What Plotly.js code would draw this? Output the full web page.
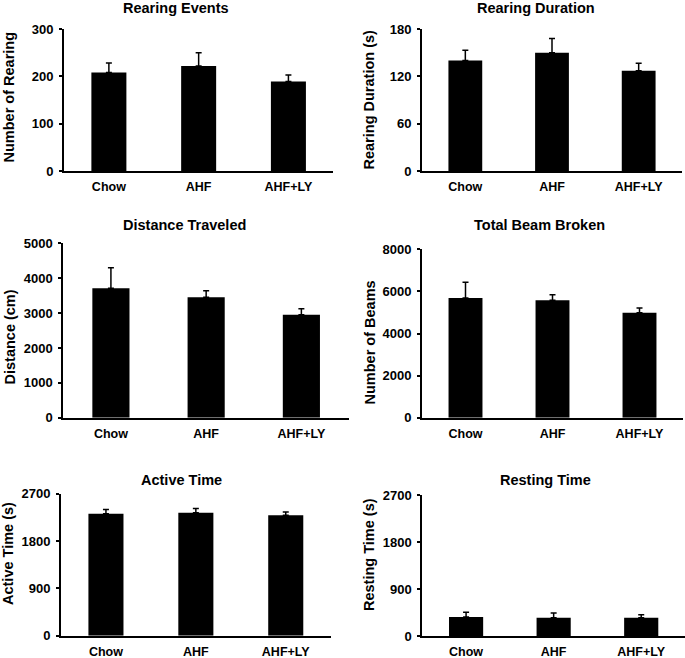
<!DOCTYPE html>
<html>
<head>
<meta charset="utf-8">
<script src="https://cdn.plot.ly/plotly-3.0.1.min.js"></script>
<style>html,body{margin:0;padding:0;background:#fff;}#chart{width:685px;height:658px;}</style>
</head>
<body>
<div id="chart"></div>
<script>
const categories = ['Chow', 'AHF', 'AHF+LY'];

const rearingEventsMean = [208, 222, 189];
const rearingEventsSem  = [20, 28, 14];
const rearingDurationMean = [140, 150, 127];
const rearingDurationSem  = [13, 18, 9.5];
const distanceMean = [3710, 3450, 2950];
const distanceSem  = [590, 190, 175];
const beamMean = [5690, 5580, 4990];
const beamSem  = [740, 260, 220];
const activeMean = [2320, 2340, 2290];
const activeSem  = [80, 80, 60];
const restingMean = [364, 350, 350];
const restingSem  = [90, 90, 58];

const panelTitles = ['Rearing Events', 'Rearing Duration', 'Distance Traveled', 'Total Beam Broken', 'Active Time', 'Resting Time'];
const yTitles = ['Number of Rearing', 'Rearing Duration (s)', 'Distance (cm)', 'Number of Beams', 'Active Time (s)', 'Resting Time (s)'];
const yTickVals = [
  [0, 100, 200, 300],
  [0, 60, 120, 180],
  [0, 1000, 2000, 3000, 4000, 5000],
  [0, 2000, 4000, 6000, 8000],
  [0, 900, 1800, 2700],
  [0, 900, 1800, 2700]
];
const means = [rearingEventsMean, rearingDurationMean, distanceMean, beamMean, activeMean, restingMean];
const sems = [rearingEventsSem, rearingDurationSem, distanceSem, beamSem, activeSem, restingSem];

// layout geometry (pixels)
const W = 685, H = 658;
const xPx = [[64, 333.3], [422, 682], [63.3, 349], [422, 683], [61, 330.7], [422.3, 685]];
const yPx = [[29, 171], [29, 171], [243.3, 417.7], [249.3, 417.7], [493.7, 635.7], [495, 636]];
const titlePos = [[176, 8], [536, 8], [184, 225], [539, 225], [181, 480], [545, 480]];
const yTitlePos = [[9, 97.5], [369, 99.5], [9, 337.5], [369, 342.5], [8, 554], [369, 555]];

const FONT = 'Liberation Sans, Arial, Helvetica, sans-serif';
const traces = [];
const layout = {
  width: W, height: H,
  margin: {l: 0, r: 0, t: 0, b: 0, pad: 0},
  paper_bgcolor: '#fff', plot_bgcolor: '#fff',
  showlegend: false,
  font: {family: FONT, color: '#000'},
  annotations: []
};

for (let i = 0; i < 6; i++) {
  const n = i === 0 ? '' : String(i + 1);
  traces.push({
    type: 'bar',
    x: categories,
    y: means[i],
    width: 0.39,
    marker: {color: '#000', line: {width: 0}},
    error_y: {type: 'data', symmetric: false, array: sems[i], arrayminus: sems[i].map(() => 0),
              color: '#000', thickness: 1.5, width: 3},
    xaxis: 'x' + n, yaxis: 'y' + n,
    hoverinfo: 'none'
  });
  const yt = yTickVals[i];
  layout['xaxis' + n] = {
    domain: [xPx[i][0] / W, xPx[i][1] / W],
    anchor: 'y' + n,
    type: 'category',
    range: [-0.5, 2.5],
    showline: true, linecolor: '#000', linewidth: 2,
    showgrid: false, zeroline: false,
    ticks: '',
    ticklabelstandoff: 3,
    tickfont: {family: FONT, size: 12.5, color: '#000', weight: 'bold'},
    fixedrange: true
  };
  layout['yaxis' + n] = {
    domain: [1 - yPx[i][1] / H, 1 - yPx[i][0] / H],
    anchor: 'x' + n,
    range: [0, yt[yt.length - 1]],
    tickvals: yt,
    ticktext: yt.map(String),
    showline: true, linecolor: '#000', linewidth: 2,
    showgrid: false, zeroline: false,
    ticks: 'outside', ticklen: 3, tickwidth: 2, tickcolor: '#000',
    ticklabelstandoff: 3,
    tickfont: {family: FONT, size: 13, color: '#000', weight: 'bold'},
    fixedrange: true
  };
  layout.annotations.push({
    xref: 'paper', yref: 'paper',
    x: titlePos[i][0] / W, y: 1 - titlePos[i][1] / H,
    xanchor: 'center', yanchor: 'middle',
    text: panelTitles[i], showarrow: false,
    font: {family: FONT, size: 14.5, color: '#000', weight: 'bold'}
  });
  layout.annotations.push({
    xref: 'paper', yref: 'paper',
    x: yTitlePos[i][0] / W, y: 1 - yTitlePos[i][1] / H,
    xanchor: 'center', yanchor: 'middle',
    text: yTitles[i], showarrow: false, textangle: -90,
    font: {family: FONT, size: 14.5, color: '#000', weight: 'bold'}
  });
}

Plotly.newPlot('chart', traces, layout, {staticPlot: true, displayModeBar: false});
</script>
</body>
</html>
